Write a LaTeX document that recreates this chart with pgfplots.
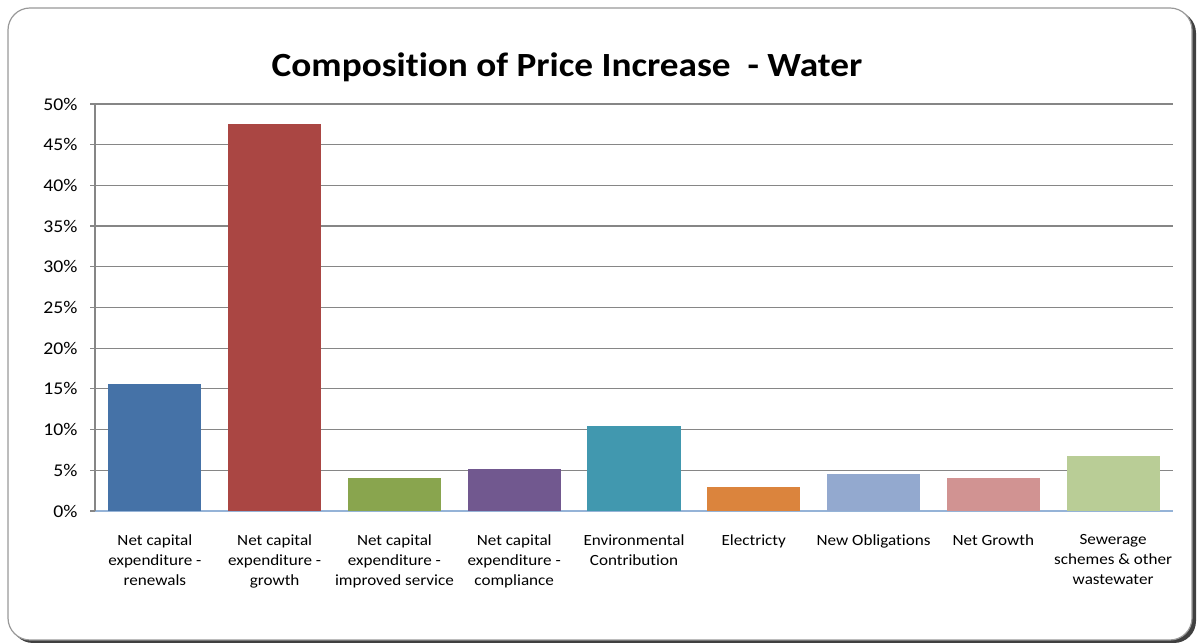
\documentclass[border=0pt]{standalone}
\usepackage{fontspec}
\setmainfont{Carlito}[FakeStretch=1.1, Ligatures=NoCommon]
\usepackage{pgfplots}
\pgfplotsset{compat=1.18}
\definecolor{c1}{HTML}{4572A7}
\definecolor{c2}{HTML}{AA4643}
\definecolor{c3}{HTML}{89A54E}
\definecolor{c4}{HTML}{71588F}
\definecolor{c5}{HTML}{4198AF}
\definecolor{c6}{HTML}{DB843D}
\definecolor{c7}{HTML}{93A9CF}
\definecolor{c8}{HTML}{D19392}
\definecolor{c9}{HTML}{B9CD96}
\definecolor{xaxis}{HTML}{95B3D7}
\definecolor{gridc}{HTML}{868686}
\begin{document}
\begin{tikzpicture}[x=1bp,y=1bp]
\useasboundingbox (0,0) rectangle (1197,644);
% frame with shadow
\fill[black!75, rounded corners=22bp] (11,1) rectangle (1196,633);
\draw[gray!80, fill=white, line width=1.2bp, rounded corners=22bp] (8,4) rectangle (1192,636);
\node[font=\fontsize{34}{40}\selectfont\bfseries] at (567,577) {Composition of Price Increase\ \ - Water};
\begin{axis}[
  at={(95bp,133bp)}, anchor=south west,
  scale only axis, width=1078bp, height=407bp,
  xmin=-0.5, xmax=8.5, ymin=0, ymax=50,
  ytick={0,5,...,50},
  yticklabel={\pgfmathprintnumber{\tick}\%},
  /pgf/number format/assume math mode=true,
  ymajorgrids, grid style={gridc, line width=1.2bp},
  xtick={0,...,8}, major x tick style={draw=none},
  xticklabels={{Net capital\\expenditure -\\renewals},{Net capital\\expenditure -\\growth},{Net capital\\expenditure -\\improved service},{Net capital\\expenditure -\\compliance},{Environmental\\Contribution},{Electricty},{New Obligations},{Net Growth},{Sewerage\\schemes \& other\\wastewater}},
  xticklabel style={align=center, font=\fontsize{15.6}{20}\selectfont, yshift=-15bp},
  yticklabel style={font=\fontsize{18}{20}\selectfont, xshift=-9bp},
  tick align=outside, major tick length=5bp,
  y tick style={gridc, line width=1.2bp},
  axis x line*=bottom, axis y line*=left,
  x axis line style={xaxis, line width=1.2bp, -},
  y axis line style={gridc, line width=1.2bp, -},
  ybar=0pt, bar width=93bp,
]
\addplot[fill=c1, draw=none, bar shift=0pt] coordinates {(0,15.6)};
\addplot[fill=c2, draw=none, bar shift=0pt] coordinates {(1,47.5)};
\addplot[fill=c3, draw=none, bar shift=0pt] coordinates {(2,4.05)};
\addplot[fill=c4, draw=none, bar shift=0pt] coordinates {(3,5.15)};
\addplot[fill=c5, draw=none, bar shift=0pt] coordinates {(4,10.45)};
\addplot[fill=c6, draw=none, bar shift=0pt] coordinates {(5,2.95)};
\addplot[fill=c7, draw=none, bar shift=0pt] coordinates {(6,4.55)};
\addplot[fill=c8, draw=none, bar shift=0pt] coordinates {(7,4.05)};
\addplot[fill=c9, draw=none, bar shift=0pt] coordinates {(8,6.75)};
\end{axis}
\end{tikzpicture}
\end{document}
